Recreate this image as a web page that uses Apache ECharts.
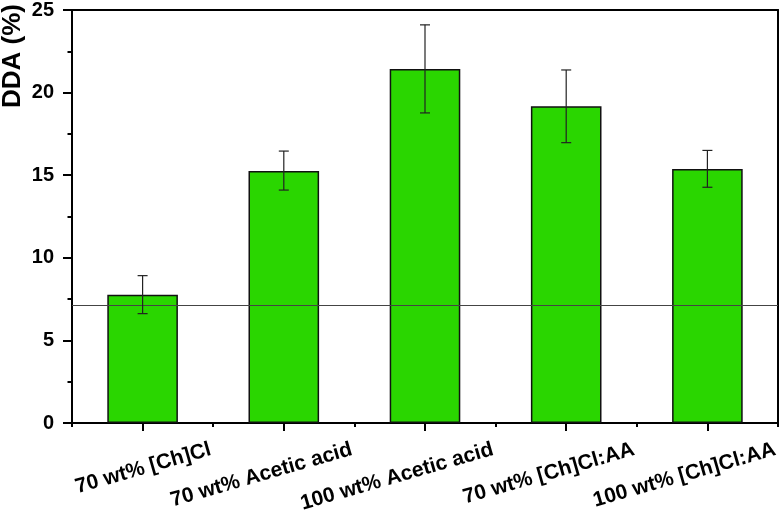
<!DOCTYPE html>
<html><head><meta charset="utf-8">
<script src="https://cdn.jsdelivr.net/npm/echarts@6/dist/echarts.min.js"></script>
<style>html,body{margin:0;padding:0;background:#fff}#c{width:780px;height:517px}</style>
</head><body><div id="c"></div>
<script>
const categories = ['70 wt% [Ch]Cl', '70 wt% Acetic acid', '100 wt% Acetic acid', '70 wt% [Ch]Cl:AA', '100 wt% [Ch]Cl:AA'];
const ddaValues = [7.77, 15.25, 21.43, 19.17, 15.38];
const errLow = [6.62, 14.1, 18.77, 16.97, 14.27];
const errHigh = [8.92, 16.46, 24.1, 21.37, 16.5];
const refLine = 7.12;
const yTicks = [0, 5, 10, 15, 20, 25];
const yName = 'DDA (%)';

const FONT = 'Liberation Sans, Arial, sans-serif';
const chart = echarts.init(document.getElementById('c'));
const errData = categories.map((c, i) => [i, errLow[i], errHigh[i]]);
const labelData = categories.map((c, i) => [i, 0]);
chart.setOption({
  animation: false,
  grid: {left: 72, right: 2, top: 10, bottom: 94},
  graphic: [{type: 'text', x: 13, y: 56, rotation: Math.PI / 2,
    style: {text: yName, fill: '#000', font: 'bold 26px ' + FONT, textAlign: 'center', textVerticalAlign: 'middle'}}],
  xAxis: [
    {type: 'category', data: categories, position: 'bottom',
     axisLine: {show: true, lineStyle: {color: '#000', width: 2}},
     axisTick: {show: true, alignWithLabel: true, length: 8, lineStyle: {color: '#000', width: 2}},
     axisLabel: {show: false}},
    {type: 'category', data: categories, position: 'bottom',
     axisLine: {show: false},
     axisTick: {show: true, alignWithLabel: false, length: 4, lineStyle: {color: '#000', width: 2}},
     axisLabel: {show: false}},
    {type: 'category', data: categories, position: 'top',
     axisLine: {show: true, lineStyle: {color: '#000', width: 2}},
     axisTick: {show: false}, axisLabel: {show: false}}
  ],
  yAxis: [
    {type: 'value', min: yTicks[0], max: yTicks[yTicks.length - 1], interval: 5,
     axisLine: {show: true, lineStyle: {color: '#000', width: 2}},
     axisTick: {show: true, length: 9, lineStyle: {color: '#000', width: 2}},
     minorTick: {show: true, splitNumber: 2, length: 4.5, lineStyle: {color: '#000', width: 2}},
     splitLine: {show: false},
     axisLabel: {color: '#000', fontWeight: 'bold', fontSize: 20, fontFamily: FONT, margin: 18}},
    {type: 'value', min: 0, max: 25, interval: 5, position: 'right',
     axisLine: {show: true, lineStyle: {color: '#000', width: 2}},
     axisTick: {show: false}, axisLabel: {show: false}, splitLine: {show: false}}
  ],
  series: [
    {type: 'bar', data: ddaValues, barWidth: '50%', xAxisIndex: 0, yAxisIndex: 0,
     itemStyle: {color: '#2ad600', borderColor: '#111', borderWidth: 1.5},
     markLine: {silent: true, symbol: 'none', label: {show: false},
       lineStyle: {color: '#444', width: 1, type: 'solid'},
       data: [{yAxis: refLine}]}},
    {type: 'custom', data: errData, xAxisIndex: 0, yAxisIndex: 0, z: 10,
     renderItem: function (params, api) {
       const x = api.value(0);
       const lo = api.coord([x, api.value(1)]);
       const hi = api.coord([x, api.value(2)]);
       const hw = 5;
       const st = {stroke: '#222', lineWidth: 1.2};
       return {type: 'group', children: [
         {type: 'line', shape: {x1: lo[0], y1: lo[1], x2: hi[0], y2: hi[1]}, style: st},
         {type: 'line', shape: {x1: hi[0] - hw, y1: hi[1], x2: hi[0] + hw, y2: hi[1]}, style: st},
         {type: 'line', shape: {x1: lo[0] - hw, y1: lo[1], x2: lo[0] + hw, y2: lo[1]}, style: st}
       ]};
     }},
    {type: 'custom', data: labelData, xAxisIndex: 0, yAxisIndex: 0, clip: false, silent: true,
     renderItem: function (params, api) {
       const i = api.value(0);
       const p = api.coord([i, api.value(1)]);
       return {type: 'text', x: p[0] + 65, y: p[1] + 16, rotation: 16 * Math.PI / 180,
         style: {text: categories[i], fill: '#000', font: 'bold 21px ' + FONT, textAlign: 'right', textVerticalAlign: 'top'}};
     }}
  ]
});
</script></body></html>
